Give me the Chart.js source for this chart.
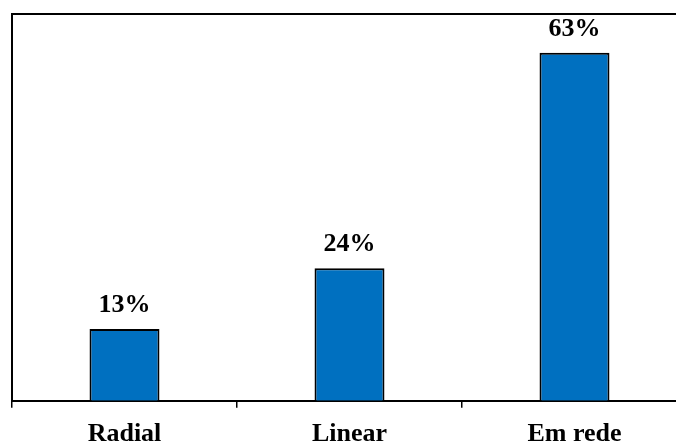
<!DOCTYPE html>
<html>
<head>
<meta charset="utf-8">
<script src="https://cdn.jsdelivr.net/npm/chart.js@4"></script>
<style>
  html, body { margin: 0; padding: 0; background: #fff; overflow: hidden; }
  #myChart { display: block; }
</style>
</head>
<body>
<canvas id="myChart" width="700" height="461" style="width:700px;height:461px"></canvas>
<script>
var categories = ['Radial', 'Linear', 'Em rede'];
var shares = [13, 24, 63];
var yMin = 0;
var yMax = 70;

// percent labels over the bars
var barLabels = {
    id: 'barLabels',
    afterDatasetsDraw: function (chart) {
        var ctx = chart.ctx;
        var meta = chart.getDatasetMeta(0);
        ctx.save();
        ctx.font = 'bold 26px "Liberation Serif"';
        ctx.fillStyle = '#000';
        ctx.textAlign = 'center';
        ctx.textBaseline = 'alphabetic';
        meta.data.forEach(function (bar, i) {
            ctx.fillText(shares[i] + '%', bar.x, bar.y - 17);
        });
        ctx.restore();
    }
};

// top frame line of the plot area (right edge falls outside the window)
var frame = {
    id: 'frame',
    afterDraw: function (chart) {
        var a = chart.chartArea;
        var ctx = chart.ctx;
        ctx.save();
        ctx.strokeStyle = '#000';
        ctx.lineWidth = 2;
        ctx.beginPath();
        ctx.moveTo(a.left - 1, a.top);
        ctx.lineTo(a.right, a.top);
        ctx.stroke();
        ctx.restore();
    }
};

var ctx = document.getElementById('myChart');
var myChart = new Chart(ctx, {
    type: 'bar',
    data: {
        labels: categories,
        datasets: [{
            data: shares,
            backgroundColor: '#0070C0',
            borderColor: '#000',
            borderWidth: 2,
            barPercentage: 0.311,
            categoryPercentage: 1
        }]
    },
    options: {
        responsive: false,
        devicePixelRatio: 1,
        animation: false,
        layout: { padding: { left: 12, top: 14, right: 13, bottom: 0 } },
        plugins: {
            legend: { display: false },
            tooltip: { enabled: false }
        },
        scales: {
            x: {
                offset: true,
                grid: {
                    offset: true,
                    drawOnChartArea: false,
                    color: '#000',
                    tickLength: 7,
                    lineWidth: 1.5
                },
                border: { color: '#000', width: 2 },
                ticks: {
                    color: '#000',
                    padding: 11,
                    font: { family: 'Liberation Serif', size: 26, weight: 'bold' }
                }
            },
            y: {
                min: yMin,
                max: yMax,
                grid: { display: false, drawTicks: false },
                border: { color: '#000', width: 2 },
                ticks: { display: false }
            }
        }
    },
    plugins: [barLabels, frame]
});
</script>
</body>
</html>
